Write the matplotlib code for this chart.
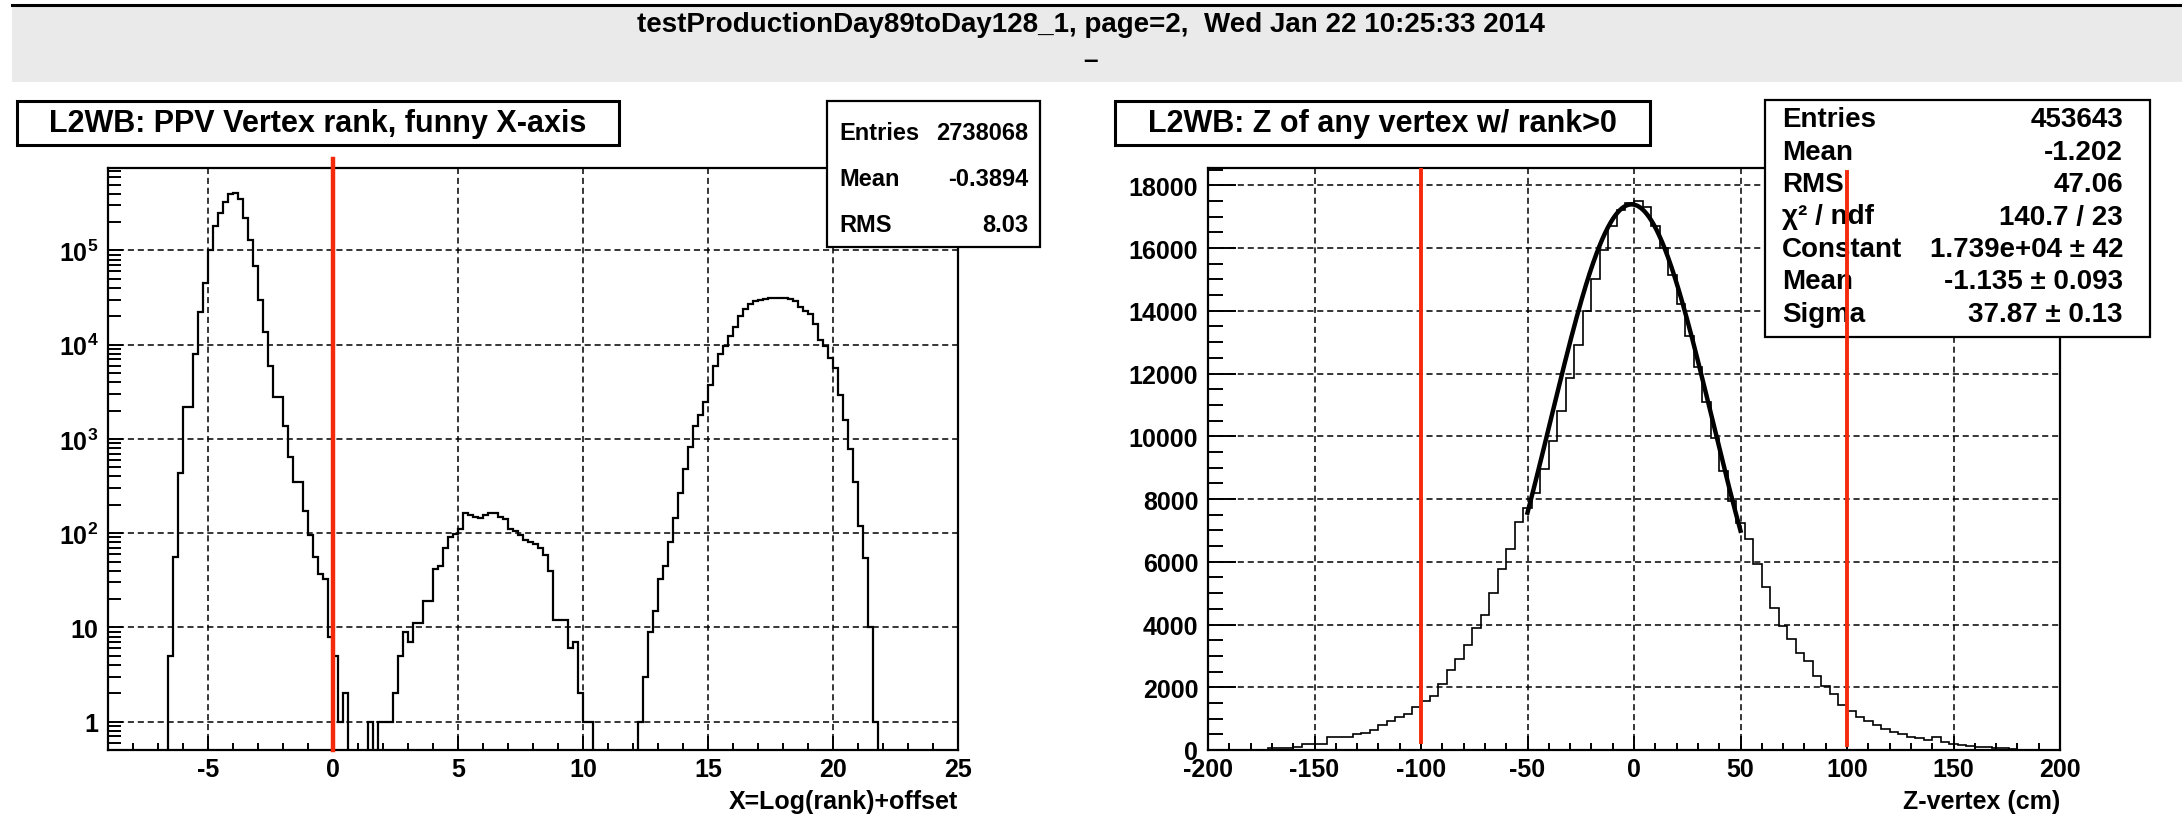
import numpy as np
import matplotlib
matplotlib.use('Agg')
import matplotlib.pyplot as plt
from matplotlib.patches import Rectangle
from matplotlib.lines import Line2D
from matplotlib.ticker import FixedLocator, FixedFormatter, MultipleLocator, LogLocator, NullFormatter

plt.rcParams['font.family'] = ['Liberation Sans', 'DejaVu Sans']
plt.rcParams['font.weight'] = 'bold'
plt.rcParams['axes.unicode_minus'] = False
plt.rcParams['mathtext.fontset'] = 'custom'
plt.rcParams['mathtext.rm'] = 'Liberation Sans:bold'
plt.rcParams['mathtext.it'] = 'Liberation Sans:bold'
plt.rcParams['mathtext.bf'] = 'Liberation Sans:bold'

# ---- data ----
header = "testProductionDay89toDay128_1, page=2,  Wed Jan 22 10:25:33 2014"

# left: PPV vertex rank, 170 bins from -9 to 25
rank_lo, rank_hi, rank_bin = -9.0, 25.0, 0.2
bump_a_start = -6.6
bump_a = [5, 56, 440, 2200, 2200, 8000, 22000, 45000, 100000, 180000,
          250000, 330000, 400000, 410000, 350000, 220000, 130000, 69000, 30000, 13500,
          6000, 2800, 2800, 1380, 640, 345, 345, 170, 95, 56,
          37, 33, 8, 5, 1, 2]
bump_b_start = 1.4
bump_b = [1, 0, 1, 1, 1, 2, 5, 9, 7, 11, 11, 19, 19, 42, 45, 70, 92, 98, 112,
          165, 155, 148, 145, 155, 162, 165, 150, 140, 112, 105, 95, 85, 80, 76,
          70, 58, 40, 12, 12, 12, 6, 7, 2, 1, 1]
bump_c_start = 12.2
bump_c = [1, 3, 9, 15, 33, 45, 80, 145, 265, 480, 830, 1380, 1800, 2450, 3750,
          6000, 8000, 9800, 12500, 15500, 20000, 24000, 27000, 29000, 29500,
          30500, 31000, 31000, 31000, 31000, 30500, 29000, 25000, 23000, 21000,
          16500, 11200, 9800, 7300, 5700, 2950, 1590, 780, 345, 120, 54, 10, 1]
rank_stats = [("Entries", "2738068"), ("Mean", "-0.3894"), ("RMS", "8.03")]

# right: Z vertex, 100 bins from -200 to 200
zvtx_lo, zvtx_hi = -200.0, 200.0
zvtx_counts = [0, 0, 0, 0, 0, 0, 0,
               50, 60, 70, 80, 180, 190, 200, 400, 410, 420, 520, 540,
               640, 800, 930, 1050, 1150, 1360,
               1550, 1730, 2100, 2540, 2900, 3340, 3900, 4290, 5010, 5780, 6400, 7260,
               7700, 8200, 8950, 9850, 10800, 11850, 12900, 14000, 15000, 15950, 16700, 17200, 17450,
               17500, 17300, 16700, 16000, 15150, 14200, 13200, 12200, 11100, 9950, 8900, 7950, 7240,
               6740, 5940, 5200, 4520, 3960, 3530, 3090, 2845, 2350, 2040, 1790, 1420,
               1240, 1050, 930, 800, 680, 560, 495, 430, 370, 310, 410, 250, 185, 150,
               120, 100, 80, 60, 50, 40,
               0, 0, 0, 0, 0]
# gaussian fit shown in the stats box
fit_const, fit_mean, fit_sigma = 1.739e4, -1.135, 37.87
fit_lo, fit_hi = -50, 50
zvtx_stats = [("Entries", "453643"), ("Mean", "-1.202"), ("RMS", "47.06"),
              ("χ² / ndf", "140.7 / 23"), ("Constant", "1.739e+04 ± 42"),
              ("Mean", "-1.135 ± 0.093"), ("Sigma", "37.87 ± 0.13")]

RED = '#f52a0c'
W, H = 2182, 820


def fx(x):
    return x / W


def fy(y):
    return 1 - y / H


rank_edges = np.linspace(rank_lo, rank_hi, int(round((rank_hi - rank_lo) / rank_bin)) + 1)
rank_counts = np.zeros(len(rank_edges) - 1)
for start, seg in [(bump_a_start, bump_a), (bump_b_start, bump_b), (bump_c_start, bump_c)]:
    i0 = int(round((start - rank_lo) / rank_bin))
    rank_counts[i0:i0 + len(seg)] = seg
zvtx_edges = np.linspace(zvtx_lo, zvtx_hi, len(zvtx_counts) + 1)

fig = plt.figure(figsize=(W / 100, H / 100), dpi=100)

# header band
fig.add_artist(Rectangle((fx(12), fy(83)), 1 - fx(12), (83 - 7) / H,
                         transform=fig.transFigure, facecolor='#eaeaea', edgecolor='none'))
fig.add_artist(Line2D([fx(12), 1], [fy(6), fy(6)], color='black', lw=2.2))
fig.text(0.5, fy(25), header, ha='center', va='center', fontsize=20, fontweight='bold')
fig.text(0.5, fy(61), "–", ha='center', va='center', fontsize=19, fontweight='bold')


def pave(ax, x0, y0, x1, y1, lw=1.6):
    ax.add_patch(Rectangle((fx(x0), fy(y1)), (x1 - x0) / W, (y1 - y0) / H,
                           transform=fig.transFigure, facecolor='white',
                           edgecolor='black', lw=lw, clip_on=False, zorder=5))


def txt(ax, x, y, s, ha='left', size=17):
    ax.text(fx(x), fy(y), s, transform=fig.transFigure, ha=ha, va='center',
            fontsize=size, fontweight='bold', zorder=5.5, clip_on=False)


def frame(ax):
    for sp in ax.spines.values():
        sp.set_linewidth(1.6)
    ax.tick_params(which='both', direction='in', top=False, right=False, width=1.4,
                   labelsize=18, colors='black')
    ax.grid(True, which='major', color='black', linestyle=(0, (4, 2.5)), lw=1.1)
    for lab in ax.get_xticklabels() + ax.get_yticklabels():
        lab.set_fontweight('bold')


# ---- left pad ----
ax1 = fig.add_axes([fx(108), fy(751), (958 - 108) / W, (751 - 169) / H])
ax1.set_yscale('log')
ax1.stairs(np.where(rank_counts > 0, rank_counts, 1e-3), rank_edges,
           baseline=None, color='black', lw=1.6, zorder=3)
ax1.set_xlim(rank_lo, rank_hi)
ax1.set_ylim(0.5, 7.5e5)
ax1.xaxis.set_major_locator(MultipleLocator(5))
ax1.xaxis.set_minor_locator(MultipleLocator(1))
ax1.yaxis.set_major_locator(FixedLocator([1, 10, 1e2, 1e3, 1e4, 1e5]))
ax1.yaxis.set_major_formatter(FixedFormatter(['1', '10', '$10^{2}$', '$10^{3}$', '$10^{4}$', '$10^{5}$']))
ax1.yaxis.set_minor_locator(LogLocator(base=10, subs=np.arange(2, 10), numticks=20))
ax1.yaxis.set_minor_formatter(NullFormatter())
frame(ax1)
ax1.tick_params(axis='x', which='major', length=10, pad=5)
ax1.tick_params(axis='x', which='minor', length=5)
ax1.tick_params(axis='y', which='major', length=11, pad=7)
ax1.tick_params(axis='y', which='minor', length=9)
ax1.plot([0, 0], [0.5, 9.4e5], color=RED, lw=3.2, clip_on=False, zorder=6)
fig.text(fx(958), fy(802), "X=Log(rank)+offset", ha='right', va='center',
         fontsize=18, fontweight='bold')

pave(ax1, 17, 102, 619, 146, lw=2.2)
txt(ax1, 318, 124, "L2WB: PPV Vertex rank, funny X-axis", ha='center', size=22)
pave(ax1, 827, 102, 1040, 248)
for i, (k, v) in enumerate(rank_stats):
    txt(ax1, 839, 133 + 46 * i, k, size=17)
    txt(ax1, 1028, 133 + 46 * i, v, ha='right', size=17)

# ---- right pad ----
ax2 = fig.add_axes([fx(1208), fy(751), (2060 - 1208) / W, (751 - 169) / H])
ax2.stairs(zvtx_counts, zvtx_edges, baseline=None, color='black', lw=1.2, zorder=3)
xf = np.linspace(fit_lo, fit_hi, 300)
ax2.plot(xf, fit_const * np.exp(-0.5 * ((xf - fit_mean) / fit_sigma) ** 2),
         color='black', lw=3.2, zorder=4)
ax2.set_xlim(zvtx_lo, zvtx_hi)
ax2.set_ylim(0, 18550)
ax2.xaxis.set_major_locator(MultipleLocator(50))
ax2.xaxis.set_minor_locator(MultipleLocator(10))
ax2.yaxis.set_major_locator(MultipleLocator(2000))
ax2.yaxis.set_minor_locator(MultipleLocator(500))
frame(ax2)
ax2.tick_params(axis='x', which='major', length=10, pad=5)
ax2.tick_params(axis='x', which='minor', length=5)
ax2.tick_params(axis='y', which='major', length=20, pad=7)
ax2.tick_params(axis='y', which='minor', length=11)
ax2.plot([-100, -100], [270, 18550], color=RED, lw=2.8, zorder=6)
ax2.plot([100, 100], [160, 18420], color=RED, lw=2.8, zorder=6, clip_on=False)
fig.text(fx(2060), fy(802), "Z-vertex (cm)", ha='right', va='center',
         fontsize=18, fontweight='bold')

pave(ax2, 1115, 102, 1650, 146, lw=2.2)
txt(ax2, 1382, 124, "L2WB: Z of any vertex w/ rank>0", ha='center', size=22)
pave(ax2, 1765, 101, 2150, 338)
for i, (k, v) in enumerate(zvtx_stats):
    txt(ax2, 1782, 120 + 32.5 * i, k, size=20)
    txt(ax2, 2123, 120 + 32.5 * i, v, ha='right', size=20)

fig.savefig('out.png', dpi=100)
